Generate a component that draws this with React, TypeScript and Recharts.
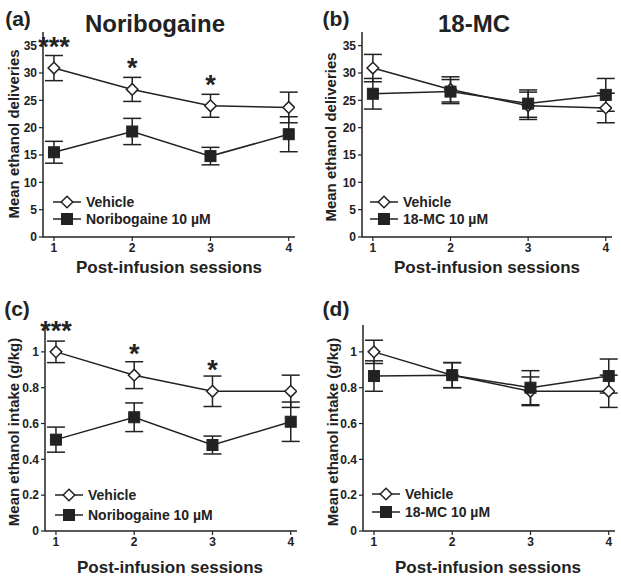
import * as React from "react";
import { LineChart, Line, XAxis, YAxis, ErrorBar, LabelList, Legend } from "recharts";

const sessions = [1, 2, 3, 4];

// (a) deliveries, noribogaine experiment
const vehicleDeliveriesA = [30.9, 27.0, 24.0, 23.7];
const vehicleDeliveriesSemA = [2.3, 2.2, 2.1, 2.8];
const noribogaineDeliveries = [15.5, 19.3, 14.8, 18.8];
const noribogaineDeliveriesSem = [2.0, 2.4, 1.6, 3.2];

// (b) deliveries, 18-MC experiment
const vehicleDeliveriesB = [30.9, 27.0, 24.0, 23.6];
const vehicleDeliveriesSemB = [2.5, 2.3, 2.5, 2.7];
const mcDeliveries = [26.2, 26.6, 24.4, 26.0];
const mcDeliveriesSem = [2.8, 2.2, 2.5, 3.0];

// (c) intake, noribogaine experiment
const vehicleIntakeC = [1.0, 0.87, 0.78, 0.78];
const vehicleIntakeSemC = [0.06, 0.075, 0.085, 0.09];
const noribogaineIntake = [0.51, 0.635, 0.48, 0.61];
const noribogaineIntakeSem = [0.07, 0.08, 0.05, 0.11];

// (d) intake, 18-MC experiment
const vehicleIntakeD = [1.0, 0.87, 0.78, 0.78];
const vehicleIntakeSemD = [0.065, 0.07, 0.08, 0.09];
const mcIntake = [0.865, 0.87, 0.8, 0.865];
const mcIntakeSem = [0.085, 0.07, 0.095, 0.095];

const noribogaineStars = ["***", "*", "*", ""];
const noStars = ["", "", "", ""];

const deliveryTicks = [0, 5, 10, 15, 20, 25, 30, 35];
const intakeTicks = [0, 0.2, 0.4, 0.6, 0.8, 1];

const ink = "#222";
const font = "'Liberation Sans', Arial, sans-serif";

function Diamond(props: any) {
  const { cx, cy, index } = props;
  if (cx == null || cy == null) return null;
  const r = 5.8;
  return (
    <path
      key={`d-${index}`}
      d={`M${cx},${cy - r}L${cx + r},${cy}L${cx},${cy + r}L${cx - r},${cy}Z`}
      fill="#fff"
      stroke={ink}
      strokeWidth={1.5}
    />
  );
}

function Square(props: any) {
  const { cx, cy, index } = props;
  if (cx == null || cy == null) return null;
  const r = 5.5;
  return (
    <rect key={`s-${index}`} x={cx - r} y={cy - r} width={2 * r} height={2 * r} fill={ink} stroke={ink} />
  );
}

type PanelProps = {
  left: number;
  top: number;
  width: number;
  height: number;
  margin: { top: number; right: number; bottom: number; left: number };
  yMax: number;
  yTicks: number[];
  vehicle: number[];
  vehicleSem: number[];
  drug: number[];
  drugSem: number[];
  drugName: string;
  stars: string[];
  legendLeft: number;
  legendTop: number;
  legendRow: number;
};

function Panel(p: PanelProps) {
  const data = sessions.map((s, i) => ({
    session: s,
    vehicle: p.vehicle[i],
    vehicleSem: p.vehicleSem[i],
    drug: p.drug[i],
    drugSem: p.drugSem[i],
    stars: p.stars[i],
  }));

  const renderLegend = (props: any) => {
    // vehicle first, as in the figure
    const payload = [...(props.payload || [])].sort((a: any, b: any) =>
      a.value === "Vehicle" ? -1 : b.value === "Vehicle" ? 1 : 0
    );
    return (
      <div style={{ fontFamily: font, fontWeight: "bold", fontSize: 14, color: ink }}>
        {payload.map((entry: any) => (
          <div
            key={entry.value}
            style={{ display: "flex", alignItems: "center", height: p.legendRow }}
          >
            <svg width={28} height={14}>
              <line x1={0} x2={28} y1={7} y2={7} stroke={ink} strokeWidth={1.5} />
              {entry.value === "Vehicle" ? (
                <Diamond cx={14} cy={7} index={0} />
              ) : (
                <Square cx={14} cy={7} index={0} />
              )}
            </svg>
            <span style={{ marginLeft: 5 }}>{entry.value}</span>
          </div>
        ))}
      </div>
    );
  };

  return (
    <div style={{ position: "absolute", left: p.left, top: p.top }}>
      <LineChart width={p.width} height={p.height} data={data} margin={p.margin}>
        <XAxis
          type="number"
          dataKey="session"
          domain={[0.86, 4.08]}
          ticks={sessions}
          allowDataOverflow
          tickSize={4}
          axisLine={{ stroke: ink, strokeWidth: 1.5 }}
          tickLine={{ stroke: ink, strokeWidth: 1.2 }}
          tick={{ fill: ink, fontSize: 12, fontWeight: "bold", fontFamily: font }}
        />
        <YAxis
          type="number"
          domain={[0, p.yMax]}
          ticks={p.yTicks}
          allowDataOverflow
          width={30}
          tickSize={4}
          axisLine={{ stroke: ink, strokeWidth: 1.5 }}
          tickLine={{ stroke: ink, strokeWidth: 1.2 }}
          tick={{ fill: ink, fontSize: 12, fontWeight: "bold", fontFamily: font }}
        />
        <Legend
          layout="vertical"
          align="center"
          verticalAlign="middle"
          content={renderLegend}
          wrapperStyle={{ left: p.legendLeft, top: p.legendTop, width: "auto" }}
        />
        <Line
          name="Vehicle"
          dataKey="vehicle"
          stroke={ink}
          strokeWidth={1.5}
          dot={Diamond}
          activeDot={false}
          isAnimationActive={false}
        >
          <ErrorBar dataKey="vehicleSem" direction="y" width={9} stroke={ink} strokeWidth={1.5} />
          <LabelList
            dataKey="stars"
            position="top"
            offset={12}
            fill={ink}
            fontSize={27}
            fontWeight="bold"
            fontFamily={font}
          />
        </Line>
        <Line
          name={`${p.drugName} 10 µM`}
          dataKey="drug"
          stroke={ink}
          strokeWidth={1.5}
          dot={Square}
          activeDot={false}
          isAnimationActive={false}
        >
          <ErrorBar dataKey="drugSem" direction="y" width={9} stroke={ink} strokeWidth={1.5} />
        </Line>
      </LineChart>
    </div>
  );
}

function Txt(props: { x: number; y: number; size: number; rotate?: boolean; children: React.ReactNode }) {
  return (
    <div
      style={{
        position: "absolute",
        left: props.x,
        top: props.y,
        transform: `translate(-50%, -50%)${props.rotate ? " rotate(-90deg)" : ""}`,
        whiteSpace: "nowrap",
        fontFamily: font,
        fontWeight: "bold",
        fontSize: props.size,
        color: ink,
        lineHeight: 1,
      }}
    >
      {props.children}
    </div>
  );
}

export default function App() {
  return (
    <div style={{ position: "absolute", left: 0, top: 0, width: 621, height: 579, background: "#fff" }}>
      <Panel
        left={0}
        top={0}
        width={310}
        height={290}
        margin={{ top: 32, right: 15, bottom: 23, left: 13 }}
        yMax={37.5}
        yTicks={deliveryTicks}
        vehicle={vehicleDeliveriesA}
        vehicleSem={vehicleDeliveriesSemA}
        drug={noribogaineDeliveries}
        drugSem={noribogaineDeliveriesSem}
        drugName="Noribogaine"
        stars={noribogaineStars}
        legendLeft={53}
        legendTop={193}
        legendRow={17.5}
      />
      <Panel
        left={310}
        top={0}
        width={311}
        height={290}
        margin={{ top: 32, right: 9, bottom: 23, left: 22 }}
        yMax={37.5}
        yTicks={deliveryTicks}
        vehicle={vehicleDeliveriesB}
        vehicleSem={vehicleDeliveriesSemB}
        drug={mcDeliveries}
        drugSem={mcDeliveriesSem}
        drugName="18-MC"
        stars={noStars}
        legendLeft={60}
        legendTop={193}
        legendRow={17}
      />
      <Panel
        left={0}
        top={290}
        width={310}
        height={289}
        margin={{ top: 35, right: 13, bottom: 18, left: 15 }}
        yMax={1.15}
        yTicks={intakeTicks}
        vehicle={vehicleIntakeC}
        vehicleSem={vehicleIntakeSemC}
        drug={noribogaineIntake}
        drugSem={noribogaineIntakeSem}
        drugName="Noribogaine"
        stars={noribogaineStars}
        legendLeft={55}
        legendTop={195}
        legendRow={20}
      />
      <Panel
        left={310}
        top={290}
        width={311}
        height={289}
        margin={{ top: 35, right: 6, bottom: 18, left: 23 }}
        yMax={1.15}
        yTicks={intakeTicks}
        vehicle={vehicleIntakeD}
        vehicleSem={vehicleIntakeSemD}
        drug={mcIntake}
        drugSem={mcIntakeSem}
        drugName="18-MC"
        stars={noStars}
        legendLeft={62}
        legendTop={195}
        legendRow={18}
      />

      <Txt x={18} y={18} size={21}>(a)</Txt>
      <Txt x={336} y={18} size={21}>(b)</Txt>
      <Txt x={17} y={308} size={21}>(c)</Txt>
      <Txt x={336} y={308} size={21}>(d)</Txt>

      <Txt x={155} y={24} size={24}>Noribogaine</Txt>
      <Txt x={474} y={24} size={24}>18-MC</Txt>

      <Txt x={13} y={134} size={15} rotate>Mean ethanol deliveries</Txt>
      <Txt x={330} y={137} size={15} rotate>Mean ethanol deliveries</Txt>
      <Txt x={13} y={432} size={15} rotate>Mean ethanol intake (g/kg)</Txt>
      <Txt x={332} y={432} size={15} rotate>Mean ethanol intake (g/kg)</Txt>

      <Txt x={169} y={267} size={17}>Post-infusion sessions</Txt>
      <Txt x={487} y={267} size={17}>Post-infusion sessions</Txt>
      <Txt x={170} y={567} size={17}>Post-infusion sessions</Txt>
      <Txt x={488} y={567} size={17}>Post-infusion sessions</Txt>
    </div>
  );
}
